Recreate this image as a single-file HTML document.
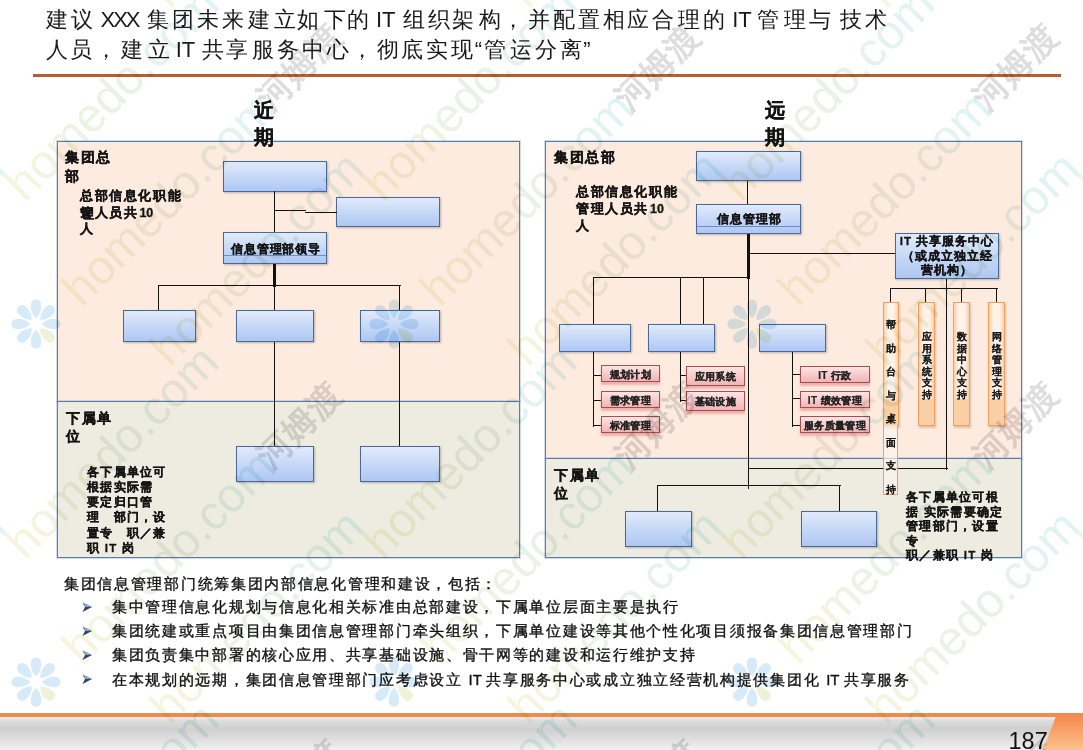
<!DOCTYPE html>
<html><head><meta charset="utf-8">
<style>
*{margin:0;padding:0;box-sizing:border-box}
html,body{width:1083px;height:750px;overflow:hidden;background:#fff}
body{position:relative;font-family:"Liberation Sans",sans-serif;color:#000}
.a{position:absolute}
.t{white-space:nowrap}
.title{font-size:22px;line-height:30px;color:#1a1a1a;white-space:nowrap}
.title span{position:absolute;top:0}
.l{letter-spacing:0}
.rule{left:33px;top:74px;width:1028px;height:3px;background:#b5602e}
.panel{border:1px solid #5f7da3;box-shadow:0 0 0 1px rgba(150,180,225,.45)}
.peach{background:#feebe0}
.gray{background:#eeece1}
.bx{border:1px solid #4a6898;background:linear-gradient(#e0eafb,#aec7f3);box-shadow:1px 1px 2px rgba(0,0,0,.25)}
.pk{border:1px solid #a05050;background:linear-gradient(#fbe4e4,#f2b4b4);box-shadow:0 3px 2px rgba(225,130,130,.55);font-size:10px;line-height:18px;letter-spacing:0.4px;font-weight:bold;text-align:center;color:#222;white-space:nowrap;-webkit-text-stroke:0.2px #222}
.v{background:#111;width:1px}
.h{background:#111;height:1px}
.b{font-weight:bold;color:#141414;white-space:nowrap;-webkit-text-stroke:0.3px #141414}
.or{border:1px solid #f2a062;background:linear-gradient(#0000 79%,#fbcfa5 79%),linear-gradient(90deg,#f9cfa8,#fff2e8 30%,#fff2e8 70%,#f9cfa8);box-shadow:1px 2px 2px rgba(120,60,0,.25)}
.col{font-size:10px;font-weight:bold;color:#1a1a1a;text-align:center;line-height:11.6px;-webkit-text-stroke:0.1px #1a1a1a}
.bt{font-size:15px;line-height:24.2px;color:#111;letter-spacing:1.7px;-webkit-text-stroke:0.35px #111;white-space:nowrap}
</style></head><body>
<div class="a title" style="top:5px;left:0;width:1083px;height:30px"><span style="left:46.1px">建</span><span style="left:71.0px">议</span><span style="left:100.5px;letter-spacing:-2px">XXX</span><span style="left:147.0px">集</span><span style="left:171.9px">团</span><span style="left:197.2px">未</span><span style="left:222.2px">来</span><span style="left:247.5px">建</span><span style="left:274.0px">立</span><span style="left:297.3px">如</span><span style="left:323.8px">下</span><span style="left:347.1px">的</span><span style="left:376.0px">IT</span><span style="left:403.3px">组</span><span style="left:428.3px">织</span><span style="left:452.2px">架</span><span style="left:479.2px">构</span><span style="left:501.9px">，</span><span style="left:527.9px">并</span><span style="left:552.8px">配</span><span style="left:577.7px">置</span><span style="left:603.2px">相</span><span style="left:627.0px">应</span><span style="left:651.7px">合</span><span style="left:678.2px">理</span><span style="left:702.7px">的</span><span style="left:732.2px">IT</span><span style="left:756.5px">管</span><span style="left:784.0px">理</span><span style="left:809.2px">与</span><span style="left:840.4px">技</span><span style="left:864.6px">术</span></div>
<div class="a title" style="top:35px;left:0;width:1083px;height:30px"><span style="left:46.2px">人</span><span style="left:70.1px">员</span><span style="left:95.4px">，</span><span style="left:121.4px">建</span><span style="left:147.5px">立</span><span style="left:175.7px">IT</span><span style="left:202.0px">共</span><span style="left:225.5px">享</span><span style="left:252.3px">服</span><span style="left:276.7px">务</span><span style="left:302.2px">中</span><span style="left:327.0px">心</span><span style="left:351.4px">，</span><span style="left:377.2px">彻</span><span style="left:401.0px">底</span><span style="left:425.5px">实</span><span style="left:451.4px">现</span><span style="left:474.8px">“</span><span style="left:484.2px">管</span><span style="left:509.5px">运</span><span style="left:535.0px">分</span><span style="left:560.4px">离</span><span style="left:583.2px">”</span></div>
<div class="a rule"></div>

<!-- left panel -->
<div class="a panel peach" style="left:57px;top:141px;width:463px;height:261px"></div>
<div class="a panel gray" style="left:57px;top:401px;width:463px;height:157px"></div>
<div class="a b" style="left:254px;top:97px;font-size:20px;line-height:27px">近<br>期</div>
<div class="a b" style="left:65px;top:148px;font-size:14px;line-height:19px;letter-spacing:1.5px">集团总<br>部</div>
<div class="a b" style="left:80px;top:188px;font-size:12.5px;line-height:16.5px;letter-spacing:1.6px">总部信息化职能<br><span style="position:relative">管<span style="position:absolute;left:1px;top:0">理</span></span>人员共<span style="letter-spacing:0;margin-left:1px">10</span><br>人</div>
<div class="a bx" style="left:223px;top:161px;width:104px;height:31px"></div>
<div class="a bx" style="left:336px;top:197px;width:104px;height:30px"></div>
<div class="a v" style="left:274px;top:191px;height:42px"></div>
<div class="a h" style="left:275px;top:210px;width:31px"></div>
<div class="a h" style="left:305px;top:212px;width:32px"></div>
<div class="a bx" style="left:223px;top:232px;width:104px;height:32px"></div>
<div class="a" style="left:224px;top:255px;width:102px;height:1px;background:#6d8fc7"></div>
<div class="a b" style="left:224px;top:241.5px;width:104px;text-align:center;font-size:11.5px;line-height:14px;letter-spacing:0.9px">信息管理部领导</div>
<div class="a v" style="left:273px;top:264px;height:23px;width:3px"></div>
<div class="a h" style="left:158px;top:285px;width:243px"></div>
<div class="a v" style="left:158px;top:285px;height:25px"></div>
<div class="a v" style="left:274px;top:285px;height:25px"></div>
<div class="a v" style="left:399px;top:285px;height:25px"></div>
<div class="a bx" style="left:123px;top:310px;width:73px;height:32px"></div>
<div class="a bx" style="left:236px;top:310px;width:78px;height:32px"></div>
<div class="a bx" style="left:360px;top:310px;width:80px;height:32px"></div>
<div class="a v" style="left:274px;top:342px;height:104px"></div>
<div class="a v" style="left:399px;top:342px;height:104px"></div>
<div class="a bx" style="left:236px;top:446px;width:78px;height:36px"></div>
<div class="a bx" style="left:360px;top:446px;width:80px;height:36px"></div>
<div class="a b" style="left:66px;top:409px;font-size:14px;line-height:18px;letter-spacing:1.5px">下属单<br>位</div>
<div class="a b" style="left:87px;top:464.5px;font-size:11.5px;line-height:15.3px;letter-spacing:1.3px">各下属单位可<br>根据实际需<br>要定归口管<br>理　部门，设<br>置专　职／兼<br>职 IT 岗</div>

<!-- right panel -->
<div class="a panel peach" style="left:545px;top:141px;width:477px;height:318px"></div>
<div class="a panel gray" style="left:545px;top:458px;width:477px;height:100px"></div>
<div class="a b" style="left:765px;top:97px;font-size:20px;line-height:27px">远<br>期</div>
<div class="a b" style="left:554px;top:149px;font-size:14px;line-height:17px;letter-spacing:1.5px">集团总部</div>
<div class="a b" style="left:576px;top:184px;font-size:12.5px;line-height:17px;letter-spacing:1.6px">总部信息化职能<br>管理人员共<span style="letter-spacing:0;margin-left:1px">10</span><br>人</div>
<div class="a bx" style="left:696px;top:151px;width:105px;height:30px"></div>
<div class="a v" style="left:747px;top:181px;height:23px"></div>
<div class="a bx" style="left:696px;top:204px;width:105px;height:30px"></div>
<div class="a" style="left:697px;top:226px;width:103px;height:1px;background:#6d8fc7"></div>
<div class="a b" style="left:697px;top:212px;width:105px;text-align:center;font-size:11.5px;line-height:14px;letter-spacing:1.2px">信息管理部</div>
<div class="a v" style="left:747px;top:234px;height:45px;width:3px"></div>
<div class="a v" style="left:748px;top:278px;height:211px"></div>
<div class="a h" style="left:748px;top:253px;width:148px"></div>
<div class="a bx" style="left:895px;top:233px;width:104px;height:46px"></div>
<div class="a b" style="left:895px;top:234px;width:104px;text-align:center;font-size:11.5px;line-height:14.5px;letter-spacing:1px">IT 共享服务中心<br>（或成立独立经<br>营机构）</div>
<div class="a v" style="left:946px;top:279px;height:191px"></div>
<div class="a h" style="left:748px;top:468px;width:200px"></div>
<div class="a h" style="left:890px;top:288px;width:108px"></div>
<div class="a v" style="left:890px;top:288px;height:14px"></div>
<div class="a v" style="left:925px;top:288px;height:14px"></div>
<div class="a v" style="left:961px;top:288px;height:14px"></div>
<div class="a v" style="left:996px;top:288px;height:14px"></div>

<div class="a h" style="left:593px;top:277px;width:156px"></div>
<div class="a v" style="left:593px;top:277px;height:48px"></div>
<div class="a v" style="left:680px;top:277px;height:48px"></div>
<div class="a v" style="left:703px;top:277px;height:48px"></div>
<div class="a bx" style="left:559px;top:324px;width:72px;height:28px"></div>
<div class="a bx" style="left:648px;top:324px;width:67px;height:28px"></div>
<div class="a bx" style="left:759px;top:324px;width:67px;height:28px"></div>
<div class="a v" style="left:593px;top:352px;height:75px"></div>
<div class="a h" style="left:593px;top:375px;width:9px"></div>
<div class="a h" style="left:593px;top:400px;width:9px"></div>
<div class="a h" style="left:593px;top:425px;width:9px"></div>
<div class="a pk" style="left:601px;top:365px;width:59px;height:17px">规划计划</div>
<div class="a pk" style="left:601px;top:391px;width:59px;height:17px">需求管理</div>
<div class="a pk" style="left:601px;top:416px;width:59px;height:17px">标准管理</div>
<div class="a v" style="left:680px;top:352px;height:50px"></div>
<div class="a h" style="left:680px;top:375px;width:7px"></div>
<div class="a h" style="left:680px;top:400px;width:7px"></div>
<div class="a pk" style="left:686px;top:366px;width:59px;height:20px;line-height:19px">应用系统</div>
<div class="a pk" style="left:686px;top:391px;width:59px;height:20px;line-height:19px">基础设施</div>
<div class="a v" style="left:792px;top:352px;height:75px"></div>
<div class="a h" style="left:792px;top:374px;width:9px"></div>
<div class="a h" style="left:792px;top:398px;width:9px"></div>
<div class="a h" style="left:792px;top:425px;width:9px"></div>
<div class="a pk" style="left:800px;top:366px;width:70px;height:17px">IT 行政</div>
<div class="a pk" style="left:800px;top:391px;width:70px;height:17px">IT 绩效管理</div>
<div class="a pk" style="left:800px;top:416px;width:70px;height:17px">服务质量管理</div>

<div class="a or" style="left:883px;top:302px;width:16px;height:124px"></div>
<div class="a" style="left:883px;top:425px;width:15px;height:70px;border:1px solid #f2a062;border-top:0;background:rgba(252,242,236,.7)"></div>
<div class="a col" style="left:883px;top:313px;width:16px;line-height:23.5px">帮<br>助<br>台<br>与<br>桌<br>面<br>支<br>持</div>
<div class="a or" style="left:918px;top:302px;width:17px;height:124px"></div>
<div class="a col" style="left:918px;top:331px;width:17px">应<br>用<br>系<br>统<br>支<br>持</div>
<div class="a or" style="left:953px;top:302px;width:17px;height:124px"></div>
<div class="a col" style="left:953px;top:331px;width:17px">数<br>据<br>中<br>心<br>支<br>持</div>
<div class="a or" style="left:988px;top:302px;width:17px;height:124px"></div>
<div class="a col" style="left:988px;top:331px;width:17px">网<br>络<br>管<br>理<br>支<br>持</div>

<div class="a h" style="left:657px;top:485px;width:184px"></div>
<div class="a v" style="left:657px;top:485px;height:27px"></div>
<div class="a v" style="left:839px;top:485px;height:27px"></div>
<div class="a bx" style="left:625px;top:511px;width:67px;height:36px"></div>
<div class="a bx" style="left:801px;top:511px;width:76px;height:36px"></div>
<div class="a b" style="left:554px;top:466px;font-size:14px;line-height:18px;letter-spacing:1.5px">下属单<br>位</div>
<div class="a b" style="left:906px;top:490px;font-size:11.5px;line-height:14.5px;letter-spacing:1.3px">各下属单位可根<br>据 实际需要确定<br>管理部门，设置<br>专<br>职／兼职 IT 岗</div>

<!-- bottom text -->
<div class="a bt" style="left:64px;top:572px">集团信息管理部门统筹集团内部信息化管理和建设，包括：</div>
<svg class="a" style="left:82px;top:601.5px" width="12" height="100" viewBox="0 0 12 100">
<g id="arw"><polygon points="0.5,0.5 10,5 0.5,10 3,5" fill="#2c4466"/><polygon points="0.5,0.5 10,5 3,5" fill="#90a4c4"/></g>
<use href="#arw" y="24"/><use href="#arw" y="48"/><use href="#arw" y="72"/></svg>
<div class="a bt" style="left:112px;top:595px">集中管理信息化规划与信息化相关标准由总部建设，下属单位层面主要是执行<br>集团统建或重点项目由集团信息管理部门牵头组织，下属单位建设等其他个性化项目须报备集团信息管理部门<br>集团负责集中部署的核心应用、共享基础设施、骨干网等的建设和运行维护支持<br>在本规划的远期，集团信息管理部门应考虑设立 <span style="letter-spacing:0;margin-right:-1.5px">IT</span> 共享服务中心或成立独立经营机构提供集团化 <span style="letter-spacing:0;margin-right:-1.5px">IT</span> 共享服务</div>

<!-- footer -->
<div class="a" style="left:0;top:713px;width:1083px;height:4px;background:#ec8c4e"></div>
<div class="a" style="left:0;top:717px;width:1083px;height:33px;background:linear-gradient(#f6ece8 0,#dcdcdc 4px,#d0d0d0 12px,#dedede 22px,#f3f1f1 33px)"></div>
<svg class="a" style="left:1030px;top:713px" width="53" height="37"><defs><linearGradient id="og" x1="0" y1="0" x2="0" y2="1"><stop offset="0" stop-color="#f7894e"/><stop offset="1" stop-color="#fbc38d"/></linearGradient></defs><polygon points="26,3 53,3 53,37 13,37" fill="url(#og)"/></svg>
<div class="a" style="left:1008.5px;top:727.5px;font-size:23.5px;line-height:27px;color:#111">187</div>
<!-- watermark -->
<svg class="a" style="left:0;top:0;mix-blend-mode:multiply;pointer-events:none" width="1083" height="750">
<defs>
<linearGradient id="hg" x1="0" y1="0" x2="1" y2="0"><stop offset="0" stop-color="#f7f5de"/><stop offset="0.5" stop-color="#eaf1e6"/><stop offset="1" stop-color="#dff4f5"/></linearGradient>
<g id="flw"><path d="M0,-6 C-4,-9 -6.5,-17 -4.5,-22 C-2.5,-25.5 2.5,-25.5 4.5,-22 C6.5,-17 4,-9 0,-6Z" transform="rotate(0)" fill="#d6ebf7"/><path d="M0,-6 C-4,-9 -6.5,-17 -4.5,-22 C-2.5,-25.5 2.5,-25.5 4.5,-22 C6.5,-17 4,-9 0,-6Z" transform="rotate(45)" fill="#d6ebf7"/><path d="M0,-6 C-4,-9 -6.5,-17 -4.5,-22 C-2.5,-25.5 2.5,-25.5 4.5,-22 C6.5,-17 4,-9 0,-6Z" transform="rotate(90)" fill="#d6ebf7"/><path d="M0,-6 C-4,-9 -6.5,-17 -4.5,-22 C-2.5,-25.5 2.5,-25.5 4.5,-22 C6.5,-17 4,-9 0,-6Z" transform="rotate(135)" fill="#eef3d8"/><path d="M0,-6 C-4,-9 -6.5,-17 -4.5,-22 C-2.5,-25.5 2.5,-25.5 4.5,-22 C6.5,-17 4,-9 0,-6Z" transform="rotate(180)" fill="#d6ebf7"/><path d="M0,-6 C-4,-9 -6.5,-17 -4.5,-22 C-2.5,-25.5 2.5,-25.5 4.5,-22 C6.5,-17 4,-9 0,-6Z" transform="rotate(225)" fill="#d6ebf7"/><path d="M0,-6 C-4,-9 -6.5,-17 -4.5,-22 C-2.5,-25.5 2.5,-25.5 4.5,-22 C6.5,-17 4,-9 0,-6Z" transform="rotate(270)" fill="#d6ebf7"/><path d="M0,-6 C-4,-9 -6.5,-17 -4.5,-22 C-2.5,-25.5 2.5,-25.5 4.5,-22 C6.5,-17 4,-9 0,-6Z" transform="rotate(315)" fill="#d6ebf7"/></g>
<pattern id="wm" width="358" height="358" patternUnits="userSpaceOnUse">
<text x="-333" y="-155" transform="rotate(-45 -333 -155)" class="hd">homedo.com</text><text x="-276" y="-50" transform="rotate(-45 -276 -50)" class="hd">homedo.com</text><text x="-188" y="-348" transform="rotate(-45 -188 -348)" class="hd">homedo.com</text><text x="-333" y="203" transform="rotate(-45 -333 203)" class="hd">homedo.com</text><text x="-276" y="308" transform="rotate(-45 -276 308)" class="hd">homedo.com</text><text x="-188" y="10" transform="rotate(-45 -188 10)" class="hd">homedo.com</text><text x="-333" y="561" transform="rotate(-45 -333 561)" class="hd">homedo.com</text><text x="-276" y="666" transform="rotate(-45 -276 666)" class="hd">homedo.com</text><text x="-188" y="368" transform="rotate(-45 -188 368)" class="hd">homedo.com</text><text x="25" y="-155" transform="rotate(-45 25 -155)" class="hd">homedo.com</text><text x="82" y="-50" transform="rotate(-45 82 -50)" class="hd">homedo.com</text><text x="170" y="-348" transform="rotate(-45 170 -348)" class="hd">homedo.com</text><text x="25" y="203" transform="rotate(-45 25 203)" class="hd">homedo.com</text><text x="82" y="308" transform="rotate(-45 82 308)" class="hd">homedo.com</text><text x="170" y="10" transform="rotate(-45 170 10)" class="hd">homedo.com</text><text x="25" y="561" transform="rotate(-45 25 561)" class="hd">homedo.com</text><text x="82" y="666" transform="rotate(-45 82 666)" class="hd">homedo.com</text><text x="170" y="368" transform="rotate(-45 170 368)" class="hd">homedo.com</text><text x="383" y="-155" transform="rotate(-45 383 -155)" class="hd">homedo.com</text><text x="440" y="-50" transform="rotate(-45 440 -50)" class="hd">homedo.com</text><text x="528" y="-348" transform="rotate(-45 528 -348)" class="hd">homedo.com</text><text x="383" y="203" transform="rotate(-45 383 203)" class="hd">homedo.com</text><text x="440" y="308" transform="rotate(-45 440 308)" class="hd">homedo.com</text><text x="528" y="10" transform="rotate(-45 528 10)" class="hd">homedo.com</text><text x="383" y="561" transform="rotate(-45 383 561)" class="hd">homedo.com</text><text x="440" y="666" transform="rotate(-45 440 666)" class="hd">homedo.com</text><text x="528" y="368" transform="rotate(-45 528 368)" class="hd">homedo.com</text><text x="-59" y="-291" transform="rotate(-45 -59 -291)" class="hm" text-anchor="middle" dominant-baseline="central">河姆渡</text><text x="-59" y="67" transform="rotate(-45 -59 67)" class="hm" text-anchor="middle" dominant-baseline="central">河姆渡</text><text x="-59" y="425" transform="rotate(-45 -59 425)" class="hm" text-anchor="middle" dominant-baseline="central">河姆渡</text><text x="299" y="-291" transform="rotate(-45 299 -291)" class="hm" text-anchor="middle" dominant-baseline="central">河姆渡</text><text x="299" y="67" transform="rotate(-45 299 67)" class="hm" text-anchor="middle" dominant-baseline="central">河姆渡</text><text x="299" y="425" transform="rotate(-45 299 425)" class="hm" text-anchor="middle" dominant-baseline="central">河姆渡</text><text x="657" y="-291" transform="rotate(-45 657 -291)" class="hm" text-anchor="middle" dominant-baseline="central">河姆渡</text><text x="657" y="67" transform="rotate(-45 657 67)" class="hm" text-anchor="middle" dominant-baseline="central">河姆渡</text><text x="657" y="425" transform="rotate(-45 657 425)" class="hm" text-anchor="middle" dominant-baseline="central">河姆渡</text><use href="#flw" x="-322" y="-34"/><use href="#flw" x="-322" y="324"/><use href="#flw" x="-322" y="682"/><use href="#flw" x="36" y="-34"/><use href="#flw" x="36" y="324"/><use href="#flw" x="36" y="682"/><use href="#flw" x="394" y="-34"/><use href="#flw" x="394" y="324"/><use href="#flw" x="394" y="682"/>
</pattern>
<style>.hd{font:48px "Liberation Sans",sans-serif;fill:url(#hg)} .hm{font:bold 34px "Liberation Sans",sans-serif;fill:#dddddd}</style>
</defs>
<rect width="1083" height="750" fill="url(#wm)"/>
</svg>
</body></html>
